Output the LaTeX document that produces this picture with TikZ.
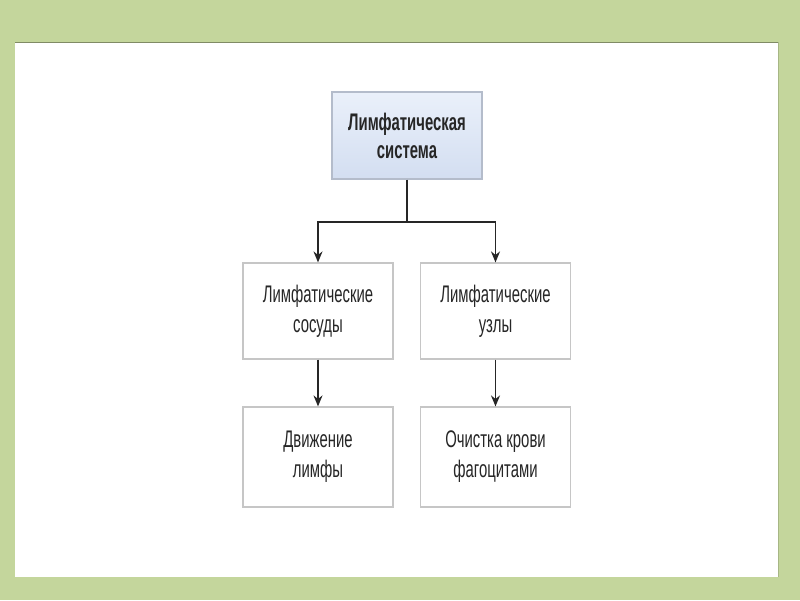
\documentclass[tikz,border=0pt]{standalone}
\usepackage{fontspec}
\setmainfont[FakeStretch=0.62]{Liberation Sans}
\usetikzlibrary{arrows.meta,calc}
\definecolor{bggreen}{HTML}{C4D69C}
\definecolor{boxline}{HTML}{C6C6C6}
\definecolor{topline}{HTML}{B4BCCB}
\definecolor{topfillA}{HTML}{EAF0FA}
\definecolor{topfillB}{HTML}{D3DEF1}
\definecolor{txt}{HTML}{262626}
\begin{document}
\begin{tikzpicture}[x=1pt,y=-1pt,
  box/.style={draw=boxline, line width=1.2pt, fill=white, minimum width=150pt, align=center,
    text=txt, font=\fontsize{24}{30}\selectfont, inner sep=0pt},
  topbox/.style={box, draw=topline, top color=topfillA, bottom color=topfillB, font=\fontsize{24}{28}\selectfont\bfseries},
  arr/.style={line width=1.6pt, draw=black!85, -{Stealth[length=11pt,width=9pt]}},
  ln/.style={line width=1.6pt, draw=black!85}]
\fill[bggreen] (0,0) rectangle (800,600);
\fill[white] (15,42) rectangle (778,577);
\draw[black!35!bggreen, line width=1pt] (15,42) -- (778,42);
\draw[black!15!bggreen, line width=0.6pt] (778,42) -- (778,577);
\node[topbox, minimum height=87pt] (top) at (407,135.5) {Лимфатическая\\система};
\node[box, minimum height=96pt] (ml) at (318,311) {Лимфатические\\сосуды};
\node[box, minimum height=96pt] (mr) at (495.5,311) {Лимфатические\\узлы};
\node[box, minimum height=100pt] (bl) at (318,457) {Движение\\лимфы};
\node[box, minimum height=100pt] (br) at (495.5,457) {Очистка крови\\фагоцитами};
\coordinate (j) at (407,222);
\draw[ln] (top.south) -- (j);
\draw[arr] (j) -| (ml.north);
\draw[arr] (j) -| (mr.north);
\draw[arr] (ml.south) -- (bl.north);
\draw[arr] (mr.south) -- (br.north);
\end{tikzpicture}
\end{document}
